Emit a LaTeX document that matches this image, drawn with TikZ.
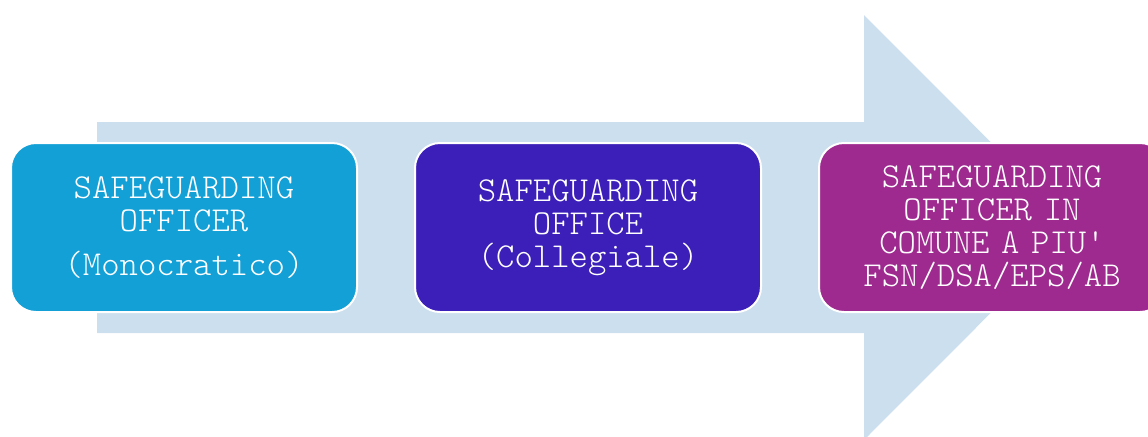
\documentclass[tikz,border=0pt]{standalone}
\usepackage{fontspec}
\newfontfamily\lightmono{Latin Modern Mono Light}
\usetikzlibrary{positioning}
\definecolor{arrowblue}{HTML}{CCDFEE}
\definecolor{stepcyan}{HTML}{12A0D6}
\definecolor{stepindigo}{HTML}{3C1FB8}
\definecolor{stepplum}{HTML}{9E2A8F}

\begin{document}
\begin{tikzpicture}[x=0.5pt,y=-0.5pt,
    stepbox/.style={draw=white, line width=1pt, rounded corners=12.5pt,
      minimum width=173pt, minimum height=84.5pt, text width=168pt,
      align=center, text=white, inner sep=0pt,
      font=\lightmono\fontsize{17.5}{16.5}\selectfont}]
    \useasboundingbox (0,0) rectangle (1148,436);
    % big background arrow
    \fill[arrowblue] (97,122) -- (864,122) -- (864,15) -- (1076,227.5)
      -- (864,440) -- (864,333) -- (97,333) -- cycle;
    \node[stepbox, fill=stepcyan] (officer) at (184,227.5)
      {SAFEGUARDING\\OFFICER\\[5.5pt](Monocratico)};
    \node[stepbox, fill=stepindigo, right=28pt of officer] (office)
      {SAFEGUARDING\\OFFICE\\(Collegiale)};
    \node[stepbox, fill=stepplum, right=28pt of office] (shared)
      {SAFEGUARDING\\OFFICER IN\\COMUNE A PIU'\\FSN/DSA/EPS/AB};
\end{tikzpicture}
\end{document}
